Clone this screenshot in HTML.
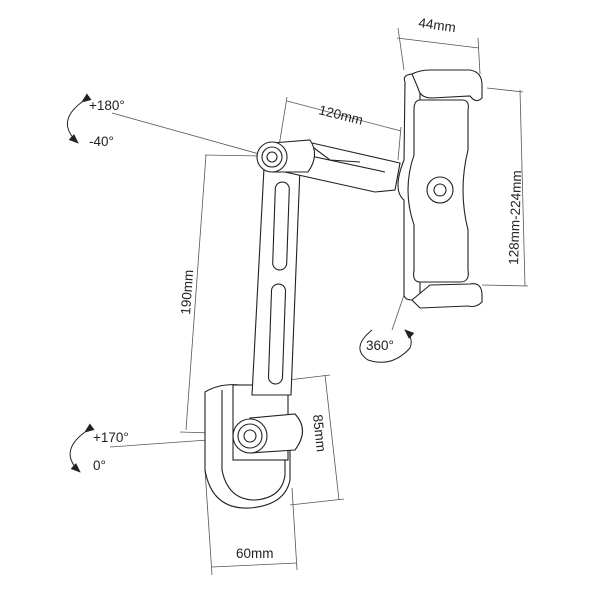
<!DOCTYPE html>
<html><head><meta charset="utf-8"><style>
html,body{margin:0;padding:0;background:#fff;}
svg{display:block}
text{font-family:"Liberation Sans",sans-serif;fill:#222;font-size:13.5px}
</style></head><body>
<svg width="600" height="600" viewBox="0 0 600 600" xmlns="http://www.w3.org/2000/svg">
<defs>
<marker id="ah" markerWidth="10" markerHeight="8" refX="9" refY="4" orient="auto" markerUnits="userSpaceOnUse">
<path d="M0,0 L10,4 L0,8 Z" fill="#222"/></marker>
</defs>
<g fill="none" stroke="#555" stroke-width="0.8">
<line x1="287" y1="101" x2="401" y2="131"/>
<line x1="287" y1="97" x2="279" y2="146"/>
<line x1="401" y1="127" x2="398" y2="160"/>
<line x1="397" y1="38" x2="479" y2="48"/>
<line x1="398" y1="28" x2="404" y2="70"/>
<line x1="478" y1="38" x2="480" y2="74"/>
<line x1="487" y1="88" x2="523" y2="92"/>
<line x1="482" y1="285" x2="528" y2="286"/>
<line x1="520" y1="90" x2="525" y2="286"/>
<line x1="205" y1="155" x2="264" y2="156"/>
<line x1="206" y1="155" x2="186" y2="430"/>
<line x1="180" y1="432" x2="246" y2="434"/>
<line x1="280" y1="381" x2="330" y2="375"/>
<line x1="325" y1="375" x2="339" y2="500"/>
<line x1="290" y1="505" x2="344" y2="499"/>
<line x1="212" y1="567" x2="297" y2="563"/>
<line x1="205" y1="470" x2="212" y2="575"/>
<line x1="292" y1="488" x2="297" y2="570"/>
<line x1="112" y1="113" x2="270" y2="157"/>
<line x1="110" y1="447" x2="250" y2="437"/>
<line x1="392" y1="330" x2="434" y2="208"/>
</g>
<g fill="none" stroke="#222" stroke-width="1">
<path d="M82,102 Q55,122 78,143" marker-start="url(#ah)" marker-end="url(#ah)"/>
<path d="M85,432 Q58,452 80,472" marker-start="url(#ah)" marker-end="url(#ah)"/>
<path d="M372,330 Q350,348 368,360 Q392,368 410,348 Q414,338 405,330" marker-end="url(#ah)"/>
</g>
<g fill="#fff" stroke="#222" stroke-width="1.1">
<path d="M205,392 L205,470 Q212,510 250,508 Q285,505 290,480 L290,425 L240,385 Q220,383 205,392 Z"/>
<path d="M222,390 L222,470 Q228,500 255,500 Q282,498 285,475 L285,430"/>
<rect x="233" y="385" width="55" height="75"/>
<path d="M250,418 L295,414 Q310,430 295,450 L250,453 Z"/>
<circle cx="250" cy="436" r="17"/>
<circle cx="250" cy="436" r="12"/>
<circle cx="250" cy="436" r="6"/>
<path d="M264,168 L300,168 L291,395 L252,395 Z"/>
<rect x="274" y="182" width="14" height="88" rx="7" transform="rotate(2 281 226)"/>
<rect x="270" y="284" width="14" height="100" rx="7" transform="rotate(2 277 334)"/>
<path d="M272,143 L312,143 L400,163 L395,190 L375,192 L285,172 Z"/>
<path d="M292,152 L385,172"/>
<path d="M310,145 L330,160 L360,162"/>
<path d="M272,143 L310,140 Q320,155 308,172 L272,172 Z"/>
<circle cx="272" cy="157" r="15"/>
<circle cx="272" cy="157" r="10"/>
<circle cx="272" cy="157" r="5"/>
<path d="M405,82 Q402,75 412,74 L420,74 L420,298 L412,300 Q403,300 404,292 L404,200 Q392,190 404,160 Z"/>
<path d="M412,74 Q420,70 430,70 L470,70 Q482,72 482,85 L482,98 Q476,104 470,96 L432,98 Q420,98 418,88 Z"/>
<path d="M412,300 L430,285 L470,284 Q482,282 482,295 L482,302 Q476,308 468,306 L420,308 Z"/>
<path d="M420,100 L462,100 Q470,100 468,110 L468,150 Q458,190 468,230 L468,270 Q470,282 460,282 L420,282 Q412,282 414,270 L414,225 Q402,190 414,155 L414,110 Q414,100 420,100 Z"/>
<circle cx="440" cy="190" r="13"/>
<circle cx="440" cy="190" r="6"/>
</g>
<text x="89" y="110" font-size="14">+180°</text>
<text x="89" y="146" font-size="14">-40°</text>
<text x="93" y="442" font-size="14">+170°</text>
<text x="93" y="470" font-size="14">0°</text>
<text x="366" y="350" font-size="14">360°</text>
<text transform="translate(318,114) rotate(14)">120mm</text>
<text transform="translate(418,27) rotate(8)">44mm</text>
<text transform="translate(518,265) rotate(-88)">128mm-224mm</text>
<text transform="translate(190,315) rotate(-86)">190mm</text>
<text transform="translate(313,415) rotate(84)">85mm</text>
<text x="236" y="558">60mm</text>
</svg>
</body></html>
